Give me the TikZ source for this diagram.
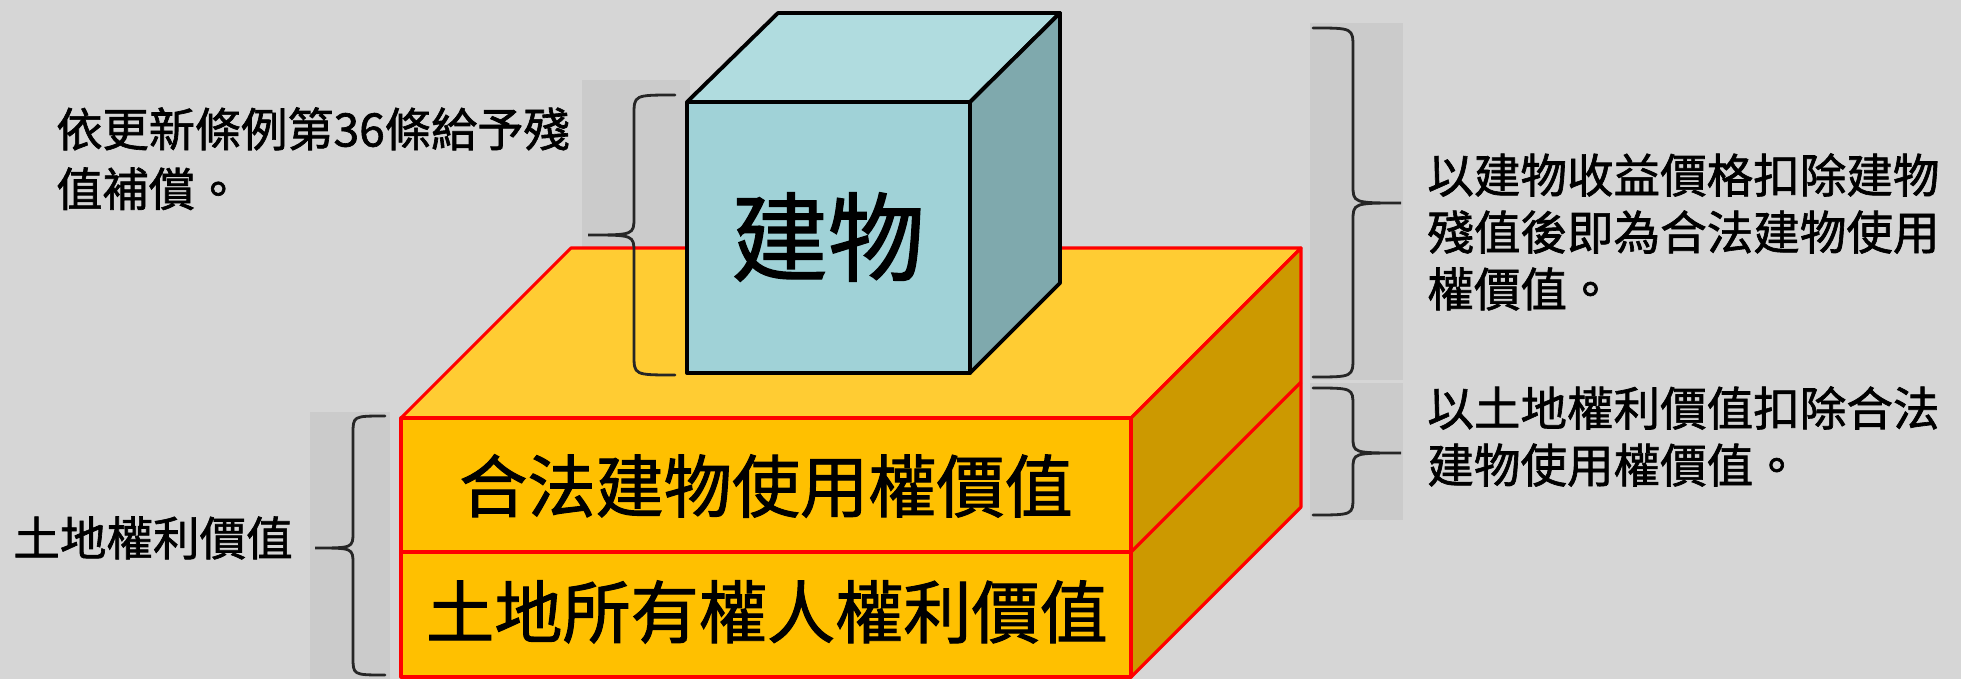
\documentclass[tikz,border=0pt]{standalone}
\usepackage{fontspec}
\newfontfamily\cjk{Noto Sans CJK TC}[FakeBold=1.4]
\usetikzlibrary{positioning}
\definecolor{bgGray}{HTML}{D6D6D6}
\definecolor{stripGray}{HTML}{CBCBCB}
\definecolor{slabTop}{HTML}{FFCC33}
\definecolor{slabFront}{HTML}{FFC000}
\definecolor{slabSide}{HTML}{CC9900}
\definecolor{cubeTop}{HTML}{B0DCDF}
\definecolor{cubeFront}{HTML}{A0D2D7}
\definecolor{cubeSide}{HTML}{7FA9AD}
\tikzset{
    note/.style={anchor=north west, inner sep=0pt, align=left,
        font={\cjk\fontsize{26.5pt}{32.4pt}\selectfont}},
    facetext/.style={inner sep=0pt, font={\cjk\fontsize{38.8pt}{44pt}\selectfont}},
    slabface/.style={draw=red, line width=1.8pt, line join=round},
    cubeface/.style={draw=black, line width=2.2pt, line join=round},
    curly/.style={draw=black!85, line width=1.6pt, line cap=round},
    strip/.style={fill=stripGray}
}

\begin{document}
\begin{tikzpicture}[x=0.02cm, y=-0.02cm]
    % Background
    \fill[bgGray] (0,0) rectangle (1961,679);
    \useasboundingbox (0,0) rectangle (1961,679);
    % Grey strips behind the braces
    \fill[strip] (582,80) rectangle (690,380);
    \fill[strip] (1310,23) rectangle (1403,380);
    \fill[strip] (1310,383) rectangle (1403,520);
    \fill[strip] (310,412) rectangle (390,679);
    % Slab: top, right side, two front faces
    \filldraw[slabface, fill=slabTop] (401,418) -- (571,248) -- (1301,248) -- (1131,418) -- cycle;
    \filldraw[slabface, fill=slabSide] (1131,418) -- (1301,248) -- (1301,507) -- (1131,677) -- cycle;
    \draw[slabface] (1131,552) -- (1301,382);
    \filldraw[slabface, fill=slabFront] (401,418) rectangle (1131,552);
    \filldraw[slabface, fill=slabFront] (401,552) rectangle (1131,677);
    % Cube: top, right side, front
    \filldraw[cubeface, fill=cubeTop] (687,102) -- (778,13) -- (1060,13) -- (970,102) -- cycle;
    \filldraw[cubeface, fill=cubeSide] (970,102) -- (1060,13) -- (1060,283) -- (970,373) -- cycle;
    \filldraw[cubeface, fill=cubeFront] (687,102) rectangle (970,373);
    % Texts on the faces
    \node[facetext, font={\cjk\fontsize{55pt}{60pt}\selectfont}] (bldg) at (828,237) {建物};
    \node[facetext] (userights) at (766,486) {合法建物使用權價值};
    \node[facetext] (ownerrights) at (767,612) {土地所有權人權利價值};
    % Braces
    \draw[curly] (675,95) .. controls (634,95) .. (634,115) -- (634,217)
        .. controls (634,235) .. (588,235) .. controls (634,235) .. (634,253)
        -- (634,355) .. controls (634,375) .. (675,375);
    \draw[curly] (1313,28) .. controls (1353,28) .. (1353,48) -- (1353,185)
        .. controls (1353,203) .. (1401,203) .. controls (1353,203) .. (1353,221)
        -- (1353,357) .. controls (1353,377) .. (1313,377);
    \draw[curly] (1313,388) .. controls (1353,388) .. (1353,406) -- (1353,437)
        .. controls (1353,453) .. (1401,453) .. controls (1353,453) .. (1353,469)
        -- (1353,497) .. controls (1353,515) .. (1313,515);
    \draw[curly] (385,416) .. controls (353,416) .. (353,434) -- (353,532)
        .. controls (353,548) .. (315,548) .. controls (353,548) .. (353,564)
        -- (353,657) .. controls (353,675) .. (385,675);
    % Notes
    \node[note, font={\cjk\fontsize{26.3pt}{34pt}\selectfont}] (residual) at (56,107)
        {依更新條例第36條給予殘\\值補償。};
    \node[note] (bldgnote) at (1427,153)
        {以建物收益價格扣除建物\\殘值後即為合法建物使用\\權價值。};
    \node[note] (usenote) at (1427,386)
        {以土地權利價值扣除合法\\建物使用權價值。};
    \node[note, anchor=west] (landrights) at (13,538) {土地權利價值};
\end{tikzpicture}
\end{document}
